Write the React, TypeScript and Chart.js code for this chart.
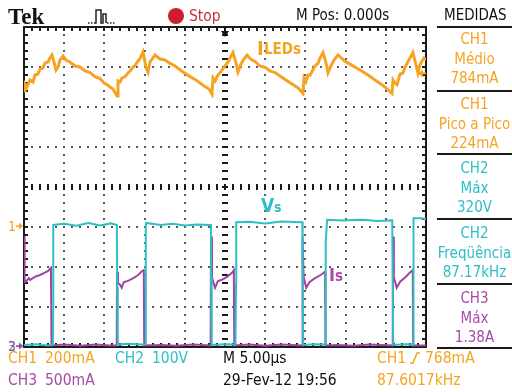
import React, { useEffect, useRef } from "react";
import { Chart, registerables } from "chart.js";

Chart.register(...registerables);

// ---- time base / graticule ----
const TIME_MIN_US = -25;
const TIME_MAX_US = 25;
const US_PER_DIV = 5;
const DIVS_Y = 8;

// ---- CH1: I LEDs (mA) ----
const ch1TimeUs = [
  -25.0, -24.88, -24.63, -24.25, -23.88, -23.63, -23.26, -23.01, -22.64, -22.39, -22.01, -21.77, -21.52,
  -21.27, -21.02, -20.77, -20.52, -20.15, -19.78, -19.28, -18.66, -18.03, -17.41, -16.79, -16.17, -15.55,
  -15.05, -14.68, -14.3, -13.93, -13.68, -13.43, -13.31, -13.06, -12.81, -12.44, -12.06, -11.82, -11.44,
  -11.19, -10.82, -10.57, -10.2, -9.83, -9.58, -9.33, -8.71, -8.08, -7.46, -6.84, -6.22, -5.22, -4.35,
  -3.73, -3.11, -2.49, -1.99, -1.62, -1.49, -1.24, -0.87, -0.62, 0, 0.37, 0.62, 1.0, 1.37, 1.62, 1.99,
  2.36, 2.74, 3.23, 3.73, 4.35, 4.98, 5.6, 6.22, 7.21, 7.84, 8.46, 9.08, 9.7, 9.83, 10.07, 10.32, 10.57,
  11.19, 11.57, 11.82, 12.19, 12.56, 12.81, 13.18, 13.56, 14.05, 14.93, 15.8, 16.79, 17.79, 18.66, 19.65,
  20.77, 20.9, 21.14, 21.39, 21.77, 22.14, 22.39, 23.01, 23.38, 23.76, 24.0, 24.25, 24.5, 24.75, 25.0,
];
const ch1CurrentMA = [
  680, 715, 700, 735, 725, 760, 765, 790, 795, 820, 825, 845, 860,
  825, 785, 800, 835, 855, 835, 825, 805, 800, 780, 772, 752, 742,
  720, 712, 700, 690, 672, 655, 730, 725, 745, 752, 770, 780, 800,
  808, 830, 842, 875, 800, 775, 825, 860, 840, 835, 818, 805, 775, 752,
  738, 720, 702, 690, 665, 745, 730, 760, 772, 805, 825, 845, 872, 820, 775, 815,
  840, 860, 838, 828, 805, 798, 780, 772, 745, 728, 712, 695, 668, 745, 728, 760, 758,
  805, 818, 845, 872, 822, 770, 805, 835, 860, 828, 808, 785, 760, 735, 708,
  668, 735, 720, 712, 765, 770, 800, 845, 872, 810, 770, 810, 830, 845, 835,
];

// ---- CH2: Vs (V) ----
const ch2TimeUs = [
  -25.0, -23.5, -22.0, -21.4, -21.38, -21.36, -20.0, -18.5, -17.0, -15.5, -14.2, -13.45, -13.4, -13.33,
  -12.0, -10.5, -9.88, -9.85, -9.8, -8.0, -6.5, -5.0, -3.5, -1.75, -1.72, -1.68, -1.62, 0, 1.3,
  1.35, 1.37, 1.4, 3.0, 5.0, 7.0, 9.55, 9.62, 9.66, 9.72, 11.0, 12.45,
  12.5, 12.55, 12.7, 14.5, 17.0, 19.0, 20.8, 20.85, 20.92, 22.5, 23.4, 23.43, 23.46, 24.4, 25.0,
];
const ch2Volts = [
  5, 7, 4, 6, 90, 305, 308, 303, 310, 304, 309, 305, 150, 6,
  8, 6, 7, 300, 310, 305, 308, 304, 306, 305, 175, 170, 5, 7, 6,
  6, 155, 312, 313, 309, 314, 312, 312, 185, 5, 7, 6,
  6, 262, 318, 316, 318, 315, 317, 317, 5, 7, 6, 200, 322, 322, 320,
];

// ---- CH3: Is (A) ----
const ch3TimeUs = [
  -25.0, -24.92, -24.75, -24.4, -24.25, -23.6, -23.0, -22.4, -22.0, -21.65, -21.58,
  -20.0, -18.0, -16.0, -14.5, -13.46, -13.43, -13.31, -13.06, -12.85, -12.6, -12.0, -11.4, -10.8, -10.3, -10.1, -10.05,
  -8.0, -6.0, -4.0, -1.78, -1.74, -1.62, -1.24, -0.9, -0.4, 0.3, 0.9, 1.1, 1.15,
  3.0, 5.0, 7.0, 9.62, 9.65, 9.78, 10.1, 10.5, 11.2, 11.9, 12.45, 12.5,
  14.0, 16.0, 18.0, 20.86, 20.9, 21.0, 21.35, 21.8, 22.4, 23.0, 23.35, 23.4, 25.0,
];
const ch3CurrentA = [
  1.38, 0.81, 0.82, 0.86, 0.84, 0.88, 0.9, 0.93, 0.95, 0.99, 0.02,
  0.03, 0.015, 0.03, 0.02, 0.02, 0.94, 0.8, 0.78, 0.74, 0.81, 0.83, 0.86, 0.9, 0.95, 0.96, 0.02,
  0.025, 0.015, 0.03, 0.02, 1.38, 0.87, 0.74, 0.82, 0.84, 0.88, 0.93, 0.96, 0.02,
  0.03, 0.015, 0.03, 0.02, 1.38, 0.875, 0.74, 0.81, 0.86, 0.9, 0.94, 0.02,
  0.025, 0.015, 0.03, 0.02, 1.38, 0.875, 0.74, 0.82, 0.87, 0.93, 0.96, 0.02, 0.02,
];

// ---- channel settings ----
const CH1_MA_PER_DIV = 200;
const CH1_ZERO_DIV = 3;
const CH2_V_PER_DIV = 100;
const CH2_ZERO_DIV = 0;
const CH3_A_PER_DIV = 0.5;
const CH3_ZERO_DIV = 0;
const TRIGGER_LEVEL_MA = 768;

const ORANGE = "#f6a322";
const CYAN = "#2dbfc5";
const MAGENTA = "#a2449f";
const MAGENTA_TEXT = "#a94aa7";
const FONT = '"DejaVu Sans Condensed", "DejaVu Sans", sans-serif';

function toPoints(times: number[], values: number[], perDiv: number, zeroDiv: number) {
  return times.map((t, i) => ({ x: t, y: zeroDiv + values[i] / perDiv }));
}

const graticule = {
  id: "graticule",
  beforeDatasetsDraw(chart: any) {
    const { ctx, chartArea: a, scales } = chart;
    const xs = scales.x;
    const ys = scales.y;
    const nx = (TIME_MAX_US - TIME_MIN_US) / US_PER_DIV;
    const px = (t: number) => Math.round(xs.getPixelForValue(t));
    const py = (d: number) => Math.round(ys.getPixelForValue(d));
    ctx.save();
    // dotted grid
    ctx.fillStyle = "#5a5a5a";
    for (let k = 1; k < nx; k++) {
      if (k === nx / 2) continue;
      const x = px(TIME_MIN_US + k * US_PER_DIV);
      for (let m = 1; m < DIVS_Y * 5; m++) ctx.fillRect(x - 1, py(m / 5) - 1, 2, 2);
    }
    for (let j = 1; j < DIVS_Y; j++) {
      if (j === DIVS_Y / 2) continue;
      const y = py(j);
      for (let m = 1; m < nx * 5; m++) ctx.fillRect(px(TIME_MIN_US + (m * US_PER_DIV) / 5) - 1, y - 1, 2, 2);
    }
    // center axes with dashes
    ctx.fillStyle = "#1a1a1a";
    const cx = px((TIME_MIN_US + TIME_MAX_US) / 2);
    for (let m = 1; m < DIVS_Y * 5; m++) ctx.fillRect(cx - 3, py(m / 5) - 1, 6, 2);
    const cy = py(DIVS_Y / 2);
    for (let m = 1; m < nx * 5; m++) ctx.fillRect(px(TIME_MIN_US + (m * US_PER_DIV) / 5) - 1, cy - 3, 2, 6);
    // border ticks
    for (let m = 1; m < DIVS_Y * 5; m++) {
      const y = py(m / 5);
      ctx.fillRect(a.left, y - 1, 4, 2);
      ctx.fillRect(a.right - 4, y - 1, 4, 2);
    }
    for (let m = 1; m < nx * 5; m++) {
      const x = px(TIME_MIN_US + (m * US_PER_DIV) / 5);
      ctx.fillRect(x - 1, a.top, 2, 4);
      ctx.fillRect(x - 1, a.bottom - 4, 2, 4);
    }
    // frame
    ctx.strokeStyle = "#1a1a1a";
    ctx.lineWidth = 2;
    ctx.strokeRect(a.left, a.top, a.right - a.left, a.bottom - a.top);
    ctx.restore();
  },
  afterDatasetsDraw(chart: any) {
    const { ctx, chartArea: a, scales } = chart;
    const xs = scales.x;
    const ys = scales.y;
    ctx.save();
    // trigger position marker (top)
    const tx = Math.round(xs.getPixelForValue(0));
    ctx.fillStyle = "#111";
    ctx.fillRect(tx - 1, a.top, 2, 4);
    ctx.beginPath();
    ctx.moveTo(tx - 4, a.top + 4);
    ctx.lineTo(tx + 4, a.top + 4);
    ctx.lineTo(tx, a.top + 10);
    ctx.closePath();
    ctx.fill();
    // trigger level marker (right)
    const ty = ys.getPixelForValue(CH1_ZERO_DIV + TRIGGER_LEVEL_MA / CH1_MA_PER_DIV);
    ctx.fillStyle = ORANGE;
    ctx.beginPath();
    ctx.moveTo(a.right - 8, ty);
    ctx.lineTo(a.right - 3, ty - 4);
    ctx.lineTo(a.right - 3, ty + 4);
    ctx.closePath();
    ctx.fill();
    ctx.fillRect(a.right - 4, ty - 1, 4, 2);
    ctx.restore();
  },
  afterDraw(chart: any) {
    const { ctx, scales } = chart;
    const ys = scales.y;
    const marks: [string, string, number][] = [
      ["1", ORANGE, CH1_ZERO_DIV],
      ["2", CYAN, CH2_ZERO_DIV],
      ["3", MAGENTA, CH3_ZERO_DIV],
    ];
    ctx.save();
    ctx.font = `14px ${FONT}`;
    ctx.textBaseline = "middle";
    for (const [label, color, zero] of marks) {
      const y = ys.getPixelForValue(zero) - 1;
      ctx.fillStyle = color;
      ctx.fillText(label, 8, y + 1);
      ctx.fillRect(16, y - 0.5, 4, 1.5);
      ctx.beginPath();
      ctx.moveTo(19, y - 3.5);
      ctx.lineTo(23, y);
      ctx.lineTo(19, y + 3.5);
      ctx.closePath();
      ctx.fill();
    }
    ctx.restore();
  },
};

type TxtProps = { x: number; y: number; text: string; color?: string; size?: number; bold?: boolean; family?: string; spacing?: number };
function Txt({ x, y, text, color = "#111", size = 15, bold = false, family = FONT, spacing = 0 }: TxtProps) {
  return (
    <div
      style={{
        position: "absolute",
        left: x,
        top: y - size * 0.58,
        fontFamily: family,
        fontStretch: "condensed",
        fontSize: size,
        lineHeight: `${size * 1.2}px`,
        fontWeight: bold ? 700 : 400,
        color,
        whiteSpace: "pre",
        letterSpacing: spacing,
      }}
    >
      {text}
    </div>
  );
}

function Panel({ y, lines, color }: { y: number; lines: string[]; color: string }) {
  return (
    <>
      {lines.map((l, i) => (
        <div
          key={i}
          style={{
            position: "absolute",
            left: 437,
            width: 75,
            top: y + i * 19.5 - 15 * 0.58,
            textAlign: "center",
            fontFamily: FONT,
            fontStretch: "condensed",
            fontSize: 15,
            lineHeight: "18px",
            color,
            whiteSpace: "pre",
          }}
        >
          {l}
        </div>
      ))}
    </>
  );
}

function Sep({ y }: { y: number }) {
  return <div style={{ position: "absolute", left: 437, width: 75, top: y - 1, height: 2, background: "#1a1a1a" }} />;
}

export default function App() {
  const ref = useRef<HTMLCanvasElement | null>(null);
  useEffect(() => {
    if (!ref.current) return;
    const chart = new Chart(ref.current, {
      type: "line",
      data: {
        datasets: [
          {
            label: "CH1",
            data: toPoints(ch1TimeUs, ch1CurrentMA, CH1_MA_PER_DIV, CH1_ZERO_DIV),
            borderColor: ORANGE,
            borderWidth: 3,
            pointRadius: 0,
            tension: 0,
          },
          {
            label: "CH2",
            data: toPoints(ch2TimeUs, ch2Volts, CH2_V_PER_DIV, CH2_ZERO_DIV),
            borderColor: CYAN,
            borderWidth: 2,
            pointRadius: 0,
            tension: 0,
          },
          {
            label: "CH3",
            data: toPoints(ch3TimeUs, ch3CurrentA, CH3_A_PER_DIV, CH3_ZERO_DIV),
            borderColor: MAGENTA,
            borderWidth: 2,
            pointRadius: 0,
            tension: 0,
          },
        ],
      },
      options: {
        animation: false,
        responsive: false,
        events: [],
        layout: { padding: { left: 24, top: 27, right: 86, bottom: 45 } },
        plugins: { legend: { display: false }, tooltip: { enabled: false } },
        scales: {
          x: { type: "linear", min: TIME_MIN_US, max: TIME_MAX_US, display: false },
          y: { type: "linear", min: 0, max: DIVS_Y, display: false },
        },
      },
      plugins: [graticule],
    });
    return () => chart.destroy();
  }, []);

  return (
    <div style={{ position: "fixed", left: 0, top: 0, width: 512, height: 392, background: "#fff", overflow: "hidden" }}>
      <canvas ref={ref} width={512} height={392} style={{ position: "absolute", left: 0, top: 0 }} />
      {/* header */}
      <Txt x={8} y={16} text="Tek" size={23} bold family='"Liberation Serif", "DejaVu Serif", serif' />
      <svg style={{ position: "absolute", left: 84, top: 6 }} width={36} height={22}>
        <polyline points="4,17 11,17" stroke="#222" strokeWidth={1.5} strokeDasharray="1.5,1.5" fill="none" />
        <polyline points="11,17 12,17 12,4 17,4 17,17 19,17 19,8 22,8 22,17" stroke="#222" strokeWidth={1.5} fill="none" />
        <polyline points="23,17 32,17" stroke="#222" strokeWidth={1.5} strokeDasharray="1.5,1.5" fill="none" />
      </svg>
      <div style={{ position: "absolute", left: 168, top: 8, width: 16, height: 16, borderRadius: 8, background: "#cc1f2d" }} />
      <Txt x={189} y={16} text="Stop" color="#c8313b" size={15.5} />
      <Txt x={296} y={15} text="M Pos: 0.000s" size={15} />
      <Txt x={444} y={15} text="MEDIDAS" size={15} />
      <Sep y={27} />
      {/* measurement panel */}
      <Panel y={39} lines={["CH1", "Médio", "784mA"]} color={ORANGE} />
      <Sep y={91} />
      <Panel y={104} lines={["CH1", "Pico a Pico", "224mA"]} color={ORANGE} />
      <Sep y={154} />
      <Panel y={168} lines={["CH2", "Máx", "320V"]} color={CYAN} />
      <Sep y={219} />
      <Panel y={233} lines={["CH2", "Freqüência", "87.17kHz"]} color={CYAN} />
      <Sep y={284} />
      <Panel y={298} lines={["CH3", "Máx", "1.38A"]} color={MAGENTA_TEXT} />
      <Sep y={348} />
      {/* trace labels */}
      <Txt x={257} y={48} text="I" color={ORANGE} size={20} bold family='"DejaVu Sans", sans-serif' />
      <Txt x={264} y={49} text="LEDs" color={ORANGE} size={15} bold family='"DejaVu Sans", sans-serif' />
      <Txt x={261} y={205} text="V" color={CYAN} size={19} bold family='"DejaVu Sans", sans-serif' />
      <Txt x={274} y={207} text="s" color={CYAN} size={14} bold family='"DejaVu Sans", sans-serif' />
      <Txt x={329} y={274} text="I" color={MAGENTA_TEXT} size={18} bold family='"DejaVu Sans", sans-serif' />
      <Txt x={335} y={276} text="s" color={MAGENTA_TEXT} size={15} bold family='"DejaVu Sans", sans-serif' />
      {/* footer */}
      <Txt x={8} y={358} text="CH1" color={ORANGE} size={15.5} />
      <Txt x={45} y={358} text="200mA" color={ORANGE} size={15.5} />
      <Txt x={115} y={358} text="CH2" color={CYAN} size={15.5} />
      <Txt x={152} y={358} text="100V" color={CYAN} size={15.5} />
      <Txt x={223} y={358} text="M 5.00µs" size={15.5} />
      <Txt x={377} y={358} text="CH1" color={ORANGE} size={15.5} />
      <svg style={{ position: "absolute", left: 409, top: 350 }} width={12} height={16}>
        <polyline points="1,13 4,13 8,3 11,3" stroke={ORANGE} strokeWidth={1.5} fill="none" />
      </svg>
      <Txt x={425} y={358} text="768mA" color={ORANGE} size={15.5} />
      <Txt x={8} y={380} text="CH3" color={MAGENTA_TEXT} size={15.5} />
      <Txt x={45} y={380} text="500mA" color={MAGENTA_TEXT} size={15.5} />
      <Txt x={223} y={380} text="29-Fev-12 19:56" size={15.5} />
      <Txt x={377} y={380} text="87.6017kHz" color={ORANGE} size={15.5} />
    </div>
  );
}
